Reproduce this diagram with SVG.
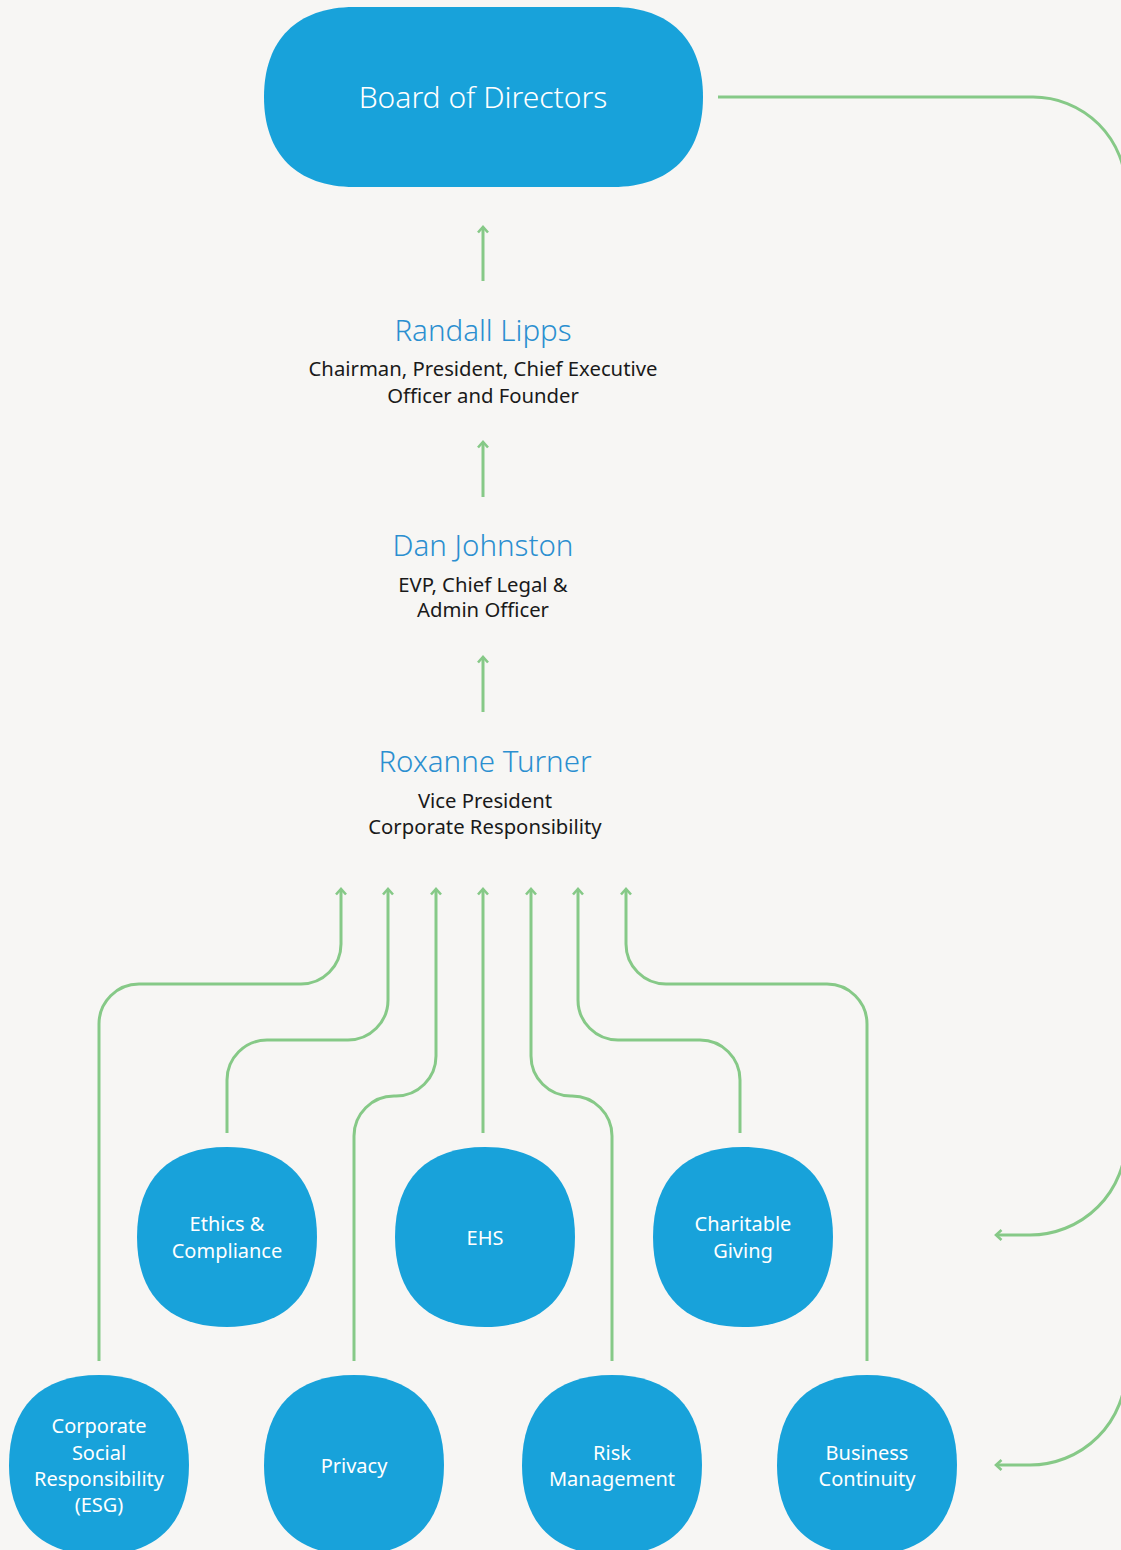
<svg xmlns="http://www.w3.org/2000/svg" xmlns:xlink="http://www.w3.org/1999/xlink" width="1121" height="1550" viewBox="0 0 1121 1550">
<style>
.bg{fill:#f7f6f4}
.node{fill:#18a2da}
.conn{fill:none;stroke:#86c987;stroke-width:3;stroke-linecap:butt}
.ntxt{font-family:"Noto Sans","Open Sans",sans-serif;fill:#ffffff;font-size:20px;text-anchor:middle}
.name{font-family:"Noto Sans","Open Sans",sans-serif;fill:#2b8fd0;font-size:29.5px;font-weight:300;text-anchor:middle}
.title{font-family:"Noto Sans","Open Sans",sans-serif;fill:#1a1a1a;font-size:20.3px;text-anchor:middle}
</style>
<defs>
<marker id="ah" viewBox="-7 -7 9 14" markerWidth="9" markerHeight="14" refX="0" refY="0" markerUnits="userSpaceOnUse" orient="auto">
<path d="M-5.5,-5 L0,0 L-5.5,5" fill="none" stroke="#86c987" stroke-width="2.6"/>
</marker>
<path id="blob" d="M0,-90 C58,-90 90,-58 90,0 C90,58 58,90 0,90 C-58,90 -90,58 -90,0 C-90,-58 -58,-90 0,-90 Z"/>
</defs>
<rect class="bg" x="0" y="0" width="1121" height="1550"/>

<g id="connectors">
<path class="conn" d="M718,97 H1033 A93,93 0 0 1 1126,190 V1400"/>
<path class="conn" marker-end="url(#ah)" d="M1126,1139 A96,96 0 0 1 1030,1235 H996"/>
<path class="conn" marker-end="url(#ah)" d="M1126,1369 A96,96 0 0 1 1030,1465 H996"/>
<path class="conn" marker-end="url(#ah)" d="M483,281 V227"/>
<path class="conn" marker-end="url(#ah)" d="M483,497 V442"/>
<path class="conn" marker-end="url(#ah)" d="M483,712 V657"/>
<path class="conn" marker-end="url(#ah)" d="M99,1361 V1024 A40,40 0 0 1 139,984 H301 A40,40 0 0 0 341,944 V889"/>
<path class="conn" marker-end="url(#ah)" d="M227,1133 V1080 A40,40 0 0 1 267,1040 H348 A40,40 0 0 0 388,1000 V889"/>
<path class="conn" marker-end="url(#ah)" d="M354,1361 V1136 A40,40 0 0 1 394,1096 H396 A40,40 0 0 0 436,1056 V889"/>
<path class="conn" marker-end="url(#ah)" d="M483,1133 V889"/>
<path class="conn" marker-end="url(#ah)" d="M612,1361 V1136 A40,40 0 0 0 572,1096 H571 A40,40 0 0 1 531,1056 V889"/>
<path class="conn" marker-end="url(#ah)" d="M740,1133 V1080 A40,40 0 0 0 700,1040 H618 A40,40 0 0 1 578,1000 V889"/>
<path class="conn" marker-end="url(#ah)" d="M867,1361 V1024 A40,40 0 0 0 827,984 H666 A40,40 0 0 1 626,944 V889"/>
</g>

<g id="board">
<path class="node" d="M354,7 L613,7 C670,7 703,40 703,97 C703,154 670,187 613,187 L354,187 C297,187 264,154 264,97 C264,40 297,7 354,7 Z"/>
<text x="483" y="108" font-family="Noto Sans, Open Sans, sans-serif" font-size="30" font-weight="300" fill="#ffffff" text-anchor="middle">Board of Directors</text>
</g>

<g id="randall">
<text class="name" x="483" y="341">Randall Lipps</text>
<text class="title" x="483" y="376">Chairman, President, Chief Executive</text>
<text class="title" x="483" y="403">Officer and Founder</text>
</g>

<g id="dan">
<text class="name" x="483" y="556">Dan Johnston</text>
<text class="title" x="483" y="592">EVP, Chief Legal &amp;</text>
<text class="title" x="483" y="617">Admin Officer</text>
</g>

<g id="roxanne">
<text class="name" x="485" y="772">Roxanne Turner</text>
<text class="title" x="485" y="808">Vice President</text>
<text class="title" x="485" y="834">Corporate Responsibility</text>
</g>

<g id="ethics">
<use xlink:href="#blob" class="node" x="227" y="1237"/>
<text class="ntxt" x="227" y="1231">Ethics &amp;</text>
<text class="ntxt" x="227" y="1258">Compliance</text>
</g>

<g id="ehs">
<use xlink:href="#blob" class="node" x="485" y="1237"/>
<text class="ntxt" x="485" y="1245">EHS</text>
</g>

<g id="charitable">
<use xlink:href="#blob" class="node" x="743" y="1237"/>
<text class="ntxt" x="743" y="1231">Charitable</text>
<text class="ntxt" x="743" y="1258">Giving</text>
</g>

<g id="csr">
<use xlink:href="#blob" class="node" x="99" y="1465"/>
<text class="ntxt" x="99" y="1433">Corporate</text>
<text class="ntxt" x="99" y="1460">Social</text>
<text class="ntxt" x="99" y="1486">Responsibility</text>
<text class="ntxt" x="99" y="1512">(ESG)</text>
</g>

<g id="privacy">
<use xlink:href="#blob" class="node" x="354" y="1465"/>
<text class="ntxt" x="354" y="1473">Privacy</text>
</g>

<g id="risk">
<use xlink:href="#blob" class="node" x="612" y="1465"/>
<text class="ntxt" x="612" y="1460">Risk</text>
<text class="ntxt" x="612" y="1486">Management</text>
</g>

<g id="business">
<use xlink:href="#blob" class="node" x="867" y="1465"/>
<text class="ntxt" x="867" y="1460">Business</text>
<text class="ntxt" x="867" y="1486">Continuity</text>
</g>
</svg>
